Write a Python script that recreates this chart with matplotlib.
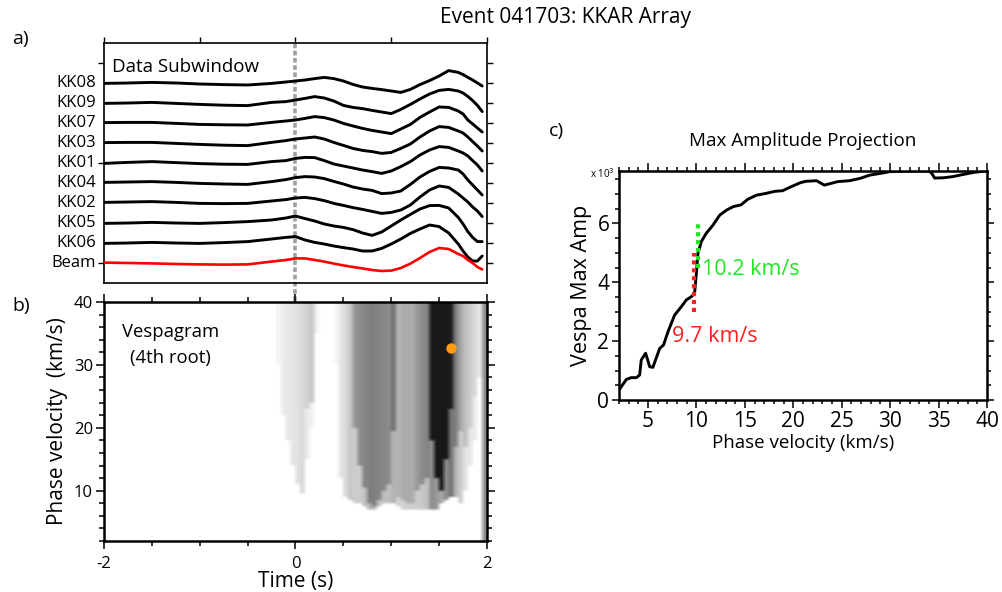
import numpy as np
import matplotlib
matplotlib.use("Agg")
import matplotlib.pyplot as plt
from matplotlib.ticker import MultipleLocator, FixedLocator

plt.rcParams['font.family'] = ['Open Sans', 'DejaVu Sans']

# ---------------- Panel a: traces (deviation from each trace's baseline) ----------------
stations = ["KK08", "KK09", "KK07", "KK03", "KK01", "KK04", "KK02", "KK05", "KK06", "Beam"]
trace_t = [-2.0, -1.75, -1.5, -1.25, -1.0, -0.75, -0.5, -0.25,
           -0.1, 0.0, 0.1, 0.2, 0.3, 0.4, 0.5, 0.6, 0.7, 0.8, 0.9, 1.0, 1.1, 1.2,
           1.3, 1.4, 1.5, 1.6, 1.7, 1.75, 1.8, 1.85, 1.9, 1.95]
kk08 = [-0.02, 0.0, 0.03, 0.0, -0.05, -0.08, -0.10, -0.02,
        0.05, 0.10, 0.15, 0.22, 0.28, 0.22, 0.10, -0.07, -0.20, -0.27, -0.33, -0.40, -0.47, -0.32,
        -0.08, 0.12, 0.35, 0.62, 0.53, 0.42, 0.28, 0.15, 0.0, -0.15]
kk09 = [-0.02, 0.0, 0.03, -0.02, -0.07, -0.11, -0.13, 0.03,
        0.07, 0.15, 0.23, 0.32, 0.25, 0.10, -0.12, -0.22, -0.28, -0.37, -0.45, -0.53, -0.32, -0.07,
        0.20, 0.45, 0.63, 0.68, 0.60, 0.50, 0.33, 0.12, -0.12, -0.43]
kk07 = [0.02, 0.03, 0.03, -0.02, -0.07, -0.09, -0.10, 0.03,
        0.10, 0.15, 0.23, 0.32, 0.27, 0.15, -0.02, -0.15, -0.27, -0.37, -0.45, -0.53, -0.30, -0.07,
        0.28, 0.55, 0.80, 0.78, 0.60, 0.45, 0.15, -0.05, -0.25, -0.45]
kk03 = [0.02, 0.03, 0.03, -0.02, -0.07, -0.11, -0.13, 0.03,
        0.12, 0.20, 0.25, 0.30, 0.20, 0.03, -0.12, -0.27, -0.37, -0.43, -0.52, -0.47, -0.27, -0.05,
        0.30, 0.60, 0.82, 0.78, 0.60, 0.50, 0.30, 0.07, -0.15, -0.40]
kk01 = [-0.02, 0.03, 0.07, 0.02, -0.03, -0.06, -0.07, 0.07,
        0.12, 0.23, 0.28, 0.27, 0.12, -0.05, -0.15, -0.25, -0.35, -0.43, -0.52, -0.40, -0.18, 0.07,
        0.40, 0.65, 0.82, 0.78, 0.60, 0.50, 0.35, 0.12, -0.10, -0.40]
kk04 = [0.03, 0.05, 0.07, 0.03, -0.02, -0.05, -0.07, 0.07,
        0.17, 0.27, 0.32, 0.30, 0.22, 0.08, -0.05, -0.20, -0.30, -0.37, -0.53, -0.50, -0.40, -0.07,
        0.30, 0.58, 0.78, 0.75, 0.65, 0.45, 0.15, -0.10, -0.35, -0.60]
kk02 = [0.03, 0.05, 0.07, 0.03, -0.02, -0.03, -0.02, 0.10,
        0.17, 0.25, 0.28, 0.22, 0.12, -0.02, -0.12, -0.23, -0.32, -0.42, -0.52, -0.47, -0.35, -0.10,
        0.30, 0.65, 0.85, 0.78, 0.45, 0.25, 0.05, -0.20, -0.40, -0.68]
kk05 = [-0.02, 0.0, 0.03, 0.0, -0.02, 0.02, 0.07, 0.15,
        0.25, 0.35, 0.22, 0.10, -0.05, -0.15, -0.22, -0.33, -0.50, -0.62, -0.45, -0.15, 0.15, 0.43,
        0.70, 0.87, 0.88, 0.75, 0.28, -0.05, -0.43, -0.72, -0.93, -0.93]
kk06 = [-0.02, 0.0, 0.03, 0.0, -0.02, 0.02, 0.07, 0.20,
        0.28, 0.32, 0.15, 0.03, -0.05, -0.15, -0.23, -0.30, -0.40, -0.40, -0.27, -0.05, 0.20, 0.48,
        0.70, 0.90, 0.82, 0.50, -0.05, -0.40, -0.70, -0.90, -0.90, -0.65]
beam = [0.02, 0.0, -0.02, -0.05, -0.07, -0.08, -0.07, 0.07,
        0.15, 0.23, 0.23, 0.15, 0.07, -0.03, -0.12, -0.20, -0.27, -0.35, -0.40, -0.38, -0.25, -0.03,
        0.25, 0.55, 0.75, 0.70, 0.45, 0.35, 0.15, 0.00, -0.20, -0.32]
traces = [kk08, kk09, kk07, kk03, kk01, kk04, kk02, kk05, kk06, beam]

# ---------------- Panel b: vespagram (columns of 0.05 s starting at -0.2 s) ----------------
vesp_upper = [0.04, 0.08, 0.10, 0.10, 0.12, 0.15, 0.18, 0.22, 0.05, 0.0, 0.0, 0.0,
              0.03, 0.10, 0.15, 0.22, 0.42, 0.45, 0.48, 0.50, 0.50, 0.48, 0.48, 0.45,
              0.55, 0.30, 0.33, 0.33, 0.33, 0.40, 0.45, 0.48, 0.90, 0.90, 0.90, 0.90,
              0.88, 0.50, 0.35, 0.25, 0.20, 0.15, 0.10, 0.45]
vesp_upper_vmin = [30, 22, 18, 14, 11, 9.5, 23, 24, 35, 40, 40, 40,
                   30, 12, 9, 8.4, 20, 14, 10.5, 8, 7.5, 8.5, 10, 11,
                   19.5, 9, 8.5, 8, 8, 10, 11, 12, 18, 12, 10, 15,
                   23, 17, 19.5, 17, 20, 25, 28, 2]
vesp_lower = [0.0, 0.0, 0.0, 0.0, 0.0, 0.0, 0.08, 0.06, 0.0, 0.0, 0.0, 0.0,
              0.0, 0.0, 0.0, 0.0, 0.20, 0.20, 0.25, 0.30, 0.30, 0.25, 0.25, 0.25,
              0.30, 0.18, 0.18, 0.20, 0.20, 0.20, 0.22, 0.25, 0.45, 0.40, 0.35, 0.45,
              0.55, 0.30, 0.20, 0.12, 0.10, 0.08, 0.0, 0.45]
vesp_lower_vmin = [30, 22, 18, 14, 11, 9.5, 15, 20, 35, 40, 40, 40,
                   30, 12, 9, 8.4, 8, 7.8, 7.5, 7.2, 7, 7.5, 7.8, 8,
                   8, 7.5, 7, 6.8, 7, 7, 7, 6.8, 7, 7, 7.8, 8.5,
                   9, 9, 8, 10, 14, 18, 28, 2]
max_point = (1.62, 32.7)

# ---------------- Panel c: max amplitude projection (x 10^3) ----------------
proj_vel = [2.0, 2.76, 3.27, 3.8, 4.13, 4.3, 4.75, 5.17, 5.5, 6.2, 6.6, 7.06, 7.75, 8.44,
            8.95, 9.47, 9.8, 9.99, 10.15, 10.5, 11.0, 11.7, 12.4, 13.1, 13.8, 14.6, 15.3,
            16.2, 17.2, 18.1, 18.9, 19.6, 20.7, 21.3, 22.4, 23.2, 23.9, 24.6, 25.8, 26.9,
            27.9, 29.0, 30.0, 31.0, 32.1, 34.0, 34.3, 34.6, 35.5, 36.5, 37.5, 38.6, 40.0]
proj_amp = [0.34, 0.70, 0.76, 0.76, 0.85, 1.36, 1.59, 1.13, 1.11, 1.75, 1.87, 2.32, 2.89, 3.17,
            3.40, 3.51, 3.62, 4.30, 4.98, 5.38, 5.66, 5.94, 6.28, 6.45, 6.57, 6.63, 6.82,
            6.96, 7.02, 7.09, 7.11, 7.22, 7.38, 7.43, 7.45, 7.30, 7.36, 7.42, 7.45, 7.53,
            7.64, 7.70, 7.76, 7.77, 7.78, 7.78, 7.70, 7.54, 7.55, 7.59, 7.66, 7.73, 7.79]
red_vel, red_span = 9.7, (3.0, 5.0)
green_vel, green_span = 10.2, (4.5, 6.0)

# =====================================================================
W, H = 1003, 592
fig = plt.figure(figsize=(W / 100, H / 100), dpi=100)

def rect(l, t, r, b):
    return [l / W, 1 - b / H, (r - l) / W, (b - t) / H]

ax_a = fig.add_axes(rect(104, 43, 487, 283))
ax_b = fig.add_axes(rect(104, 302, 487, 541))
ax_c = fig.add_axes(rect(619, 171, 987, 400))

# ---- panel a ----
n = len(stations)
for i, (name, tr) in enumerate(zip(stations, traces)):
    base = n - i
    col = 'red' if name == 'Beam' else 'black'
    lw = 1.9 if name == 'Beam' else 2.1
    ax_a.plot(trace_t, np.array(tr) + base, color=col, lw=lw, solid_joinstyle='round',
              solid_capstyle='round', zorder=3)
    ax_a.text(-2.08, base, name, ha='right', va='center', fontsize=12)
ax_a.set_xlim(-2, 2)
ax_a.set_ylim(0, 12)
ax_a.set_xticks([-2, -1, 0, 1, 2])
ax_a.tick_params(axis='x', bottom=False, top=True, labelbottom=False, direction='out',
                 length=4, width=1)
ax_a.yaxis.set_major_locator(FixedLocator([1, 6, 11]))
ax_a.yaxis.set_minor_locator(FixedLocator([2, 3, 4, 5, 7, 8, 9, 10]))
ax_a.tick_params(axis='y', which='major', left=True, right=True, labelleft=False,
                 direction='out', length=4, width=1)
ax_a.tick_params(axis='y', which='minor', left=False, right=True, direction='out',
                 length=4, width=1)
for s in ax_a.spines.values():
    s.set_linewidth(1.2)
ax_a.axvline(0, ymin=-0.075, ymax=1.01, color='#a0a0a0', lw=2.6,
             linestyle=(0, (1.3, 0.7)), clip_on=False, zorder=2)
ax_a.text(-1.92, 10.8, "Data Subwindow", ha='left', va='center', fontsize=13.5)

# ---- panel b ----
v_edges = np.arange(2.0, 40.0001, 0.5)
v_cent = 0.5 * (v_edges[:-1] + v_edges[1:])
grid = np.zeros((len(v_cent), len(vesp_upper)))
for j in range(len(vesp_upper)):
    grid[:, j] = np.where(v_cent >= vesp_upper_vmin[j], vesp_upper[j],
                          np.where(v_cent >= vesp_lower_vmin[j], vesp_lower[j], 0.0))
t_start, t_stop = -0.2, 2.0
ax_b.imshow(grid, extent=[t_start, t_stop, 2.0, 40.0], origin='lower', aspect='auto',
            cmap='gray_r', vmin=0, vmax=1, interpolation='bilinear', zorder=1)
ax_b.plot([max_point[0]], [max_point[1]], 'o', color='#ff9c12', ms=7.5, mec='none', zorder=4)
ax_b.set_xlim(-2, 2)
ax_b.set_ylim(2, 40)
ax_b.xaxis.set_major_locator(FixedLocator([-2, 0, 2]))
ax_b.xaxis.set_minor_locator(MultipleLocator(0.5))
ax_b.yaxis.set_major_locator(FixedLocator([10, 20, 30, 40]))
ax_b.yaxis.set_minor_locator(MultipleLocator(2))
ax_b.tick_params(which='both', direction='out', top=True, right=True, width=1.1)
ax_b.tick_params(which='major', length=6, labelsize=12, pad=2)
ax_b.tick_params(axis='x', which='major', pad=5)
ax_b.tick_params(which='minor', length=3.5)
for s in ax_b.spines.values():
    s.set_linewidth(1.8)
ax_b.set_xticklabels(['-2', '0', '2'])
ax_b.set_xlabel("Time (s)", fontsize=15, labelpad=-1)
ax_b.set_ylabel("Phase velocity  (km/s)", fontsize=15, labelpad=4)
ax_b.text(-1.81, 35.2, "Vespagram", ha='left', va='center', fontsize=13.3)
ax_b.text(-1.31, 31.1, "(4th root)", ha='center', va='center', fontsize=13.3)

# ---- panel c ----
ax_c.plot(proj_vel, proj_amp, color='black', lw=2.1, zorder=3)
ax_c.plot([red_vel, red_vel], red_span, color='#ff2020', lw=3, linestyle=(0, (1.0, 0.9)),
          zorder=4)
ax_c.plot([green_vel, green_vel], green_span, color='#22e622', lw=3,
          linestyle=(0, (1.0, 0.9)), zorder=4)
ax_c.text(10.6, 4.45, "10.2 km/s", color='#22e622', ha='left', va='center', fontsize=15.5)
ax_c.text(7.5, 2.15, "9.7 km/s", color='#ff2020', ha='left', va='center', fontsize=15.5)
ax_c.set_xlim(2, 40)
ax_c.set_ylim(0, 7.78)
ax_c.xaxis.set_major_locator(MultipleLocator(5))
ax_c.xaxis.set_minor_locator(MultipleLocator(1))
ax_c.yaxis.set_major_locator(FixedLocator([0, 2, 4, 6]))
ax_c.yaxis.set_minor_locator(MultipleLocator(0.5))
ax_c.tick_params(which='both', direction='out', top=True, right=True, width=1.1)
ax_c.tick_params(which='major', length=5, labelsize=15, pad=2)
ax_c.tick_params(which='minor', length=3)
ax_c.tick_params(axis='x', which='major', top=True, length=6)
for s in ax_c.spines.values():
    s.set_linewidth(1.8)
ax_c.set_xlabel("Phase velocity (km/s)", fontsize=13.5, labelpad=1)
ax_c.set_ylabel("Vespa Max Amp", fontsize=15.5, labelpad=4)
ax_c.set_title("Max Amplitude Projection", fontsize=13.6, pad=18)
ax_c.text(-0.012, 0.985, r"x 10$^{3}$", transform=ax_c.transAxes, ha='right', va='center',
          fontsize=7)

# ---- figure labels ----
fig.text(565 / W, 1 - 18 / H, "Event 041703: KKAR Array", ha='center', va='center', fontsize=15)
fig.text(20 / W, 1 - 39 / H, "a)", ha='center', va='center', fontsize=14)
fig.text(21 / W, 1 - 306 / H, "b)", ha='center', va='center', fontsize=14)
fig.text(556 / W, 1 - 131 / H, "c)", ha='center', va='center', fontsize=14)

fig.savefig("out.png", dpi=100)
